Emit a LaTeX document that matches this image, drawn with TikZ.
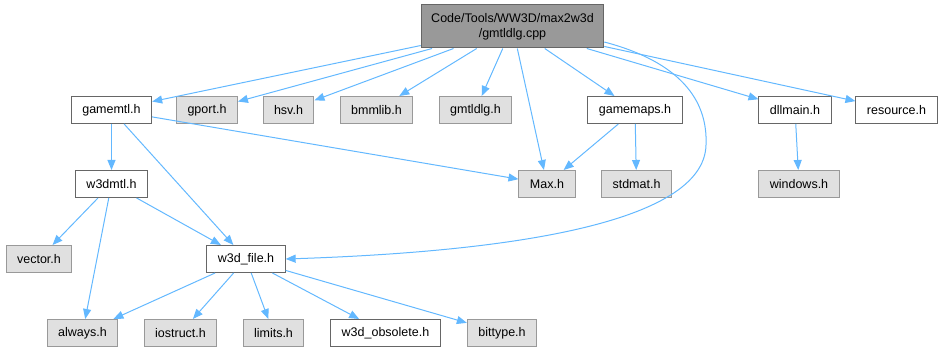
\documentclass[tikz,border=0pt]{standalone}
\usepackage{fontspec}
\setmainfont{Liberation Sans}
\usetikzlibrary{arrows.meta}
\definecolor{edgeblue}{HTML}{63B8FF}
\definecolor{rootfill}{HTML}{999999}
\definecolor{sysfill}{HTML}{E0E0E0}
\definecolor{darkframe}{HTML}{666666}
\definecolor{lightframe}{HTML}{999999}
\tikzset{
  file/.style={draw=darkframe, fill=white, line width=1pt, inner xsep=11pt,
    minimum height=27pt, font=\fontsize{12.5}{15}\selectfont},
  sysfile/.style={file, draw=lightframe, fill=sysfill},
  rootfile/.style={file, fill=rootfill, align=center, minimum height=43pt, inner xsep=10pt},
  dep/.style={draw=edgeblue, line width=1pt, -{Triangle[length=10pt,width=8pt]}}
}
\begin{document}
\begin{tikzpicture}[x=1pt,y=-1pt]
\useasboundingbox (0,0) rectangle (943,352);
% the source file
\node[rootfile] (gmtldlgcpp) at (512.5,26.5) {Code/Tools/WW3D/max2w3d\\/gmtldlg.cpp};
% first level of includes
\node[file] (gamemtl) at (111.5,110) {gamemtl.h};
\node[sysfile] (gport) at (207,110) {gport.h};
\node[sysfile] (hsv) at (288.5,110) {hsv.h};
\node[sysfile] (bmmlib) at (376.5,110) {bmmlib.h};
\node[sysfile] (gmtldlgh) at (475.5,110) {gmtldlg.h};
\node[file] (gamemaps) at (635,110) {gamemaps.h};
\node[file] (dllmain) at (795,110) {dllmain.h};
\node[file] (resource) at (896.5,110) {resource.h};
% second level
\node[file] (w3dmtl) at (111.5,184) {w3dmtl.h};
\node[sysfile] (max) at (547,184) {Max.h};
\node[sysfile] (stdmat) at (636.5,184) {stdmat.h};
\node[sysfile] (windows) at (799,184) {windows.h};
% third level
\node[sysfile] (vector) at (39,259) {vector.h};
\node[file] (w3dfile) at (246,259) {w3d\_file.h};
% bottom row
\node[sysfile] (always) at (82.5,333) {always.h};
\node[sysfile] (iostruct) at (180.5,333) {iostruct.h};
\node[sysfile] (limits) at (273.5,333) {limits.h};
\node[file] (w3dobsolete) at (385.5,333) {w3d\_obsolete.h};
\node[sysfile] (bittype) at (502,333) {bittype.h};

% edges from the source file
\foreach \t in {gamemtl,gport,hsv,bmmlib,gmtldlgh,max,gamemaps,dllmain,resource}
  \draw[dep] (gmtldlgcpp) -- (\t);
\draw[dep] ([yshift=-15.5pt]gmtldlgcpp.east) .. controls (680,62) and (708,100) .. (706,145)
  .. controls (704,225) and (500,252) .. (w3dfile.east);
% edges between headers
\draw[dep] (gamemtl) -- (w3dmtl);
\draw[dep] (gamemtl) -- (w3dfile);
\draw[dep] (gamemtl) -- (max);
\draw[dep] (gamemaps) -- (max);
\draw[dep] (gamemaps) -- (stdmat);
\draw[dep] (dllmain) -- (windows);
\draw[dep] (w3dmtl) -- (vector);
\draw[dep] (w3dmtl) -- (always);
\draw[dep] (w3dmtl) -- (w3dfile);
\foreach \t in {always,iostruct,limits,w3dobsolete,bittype}
  \draw[dep] (w3dfile) -- (\t);
\end{tikzpicture}
\end{document}
